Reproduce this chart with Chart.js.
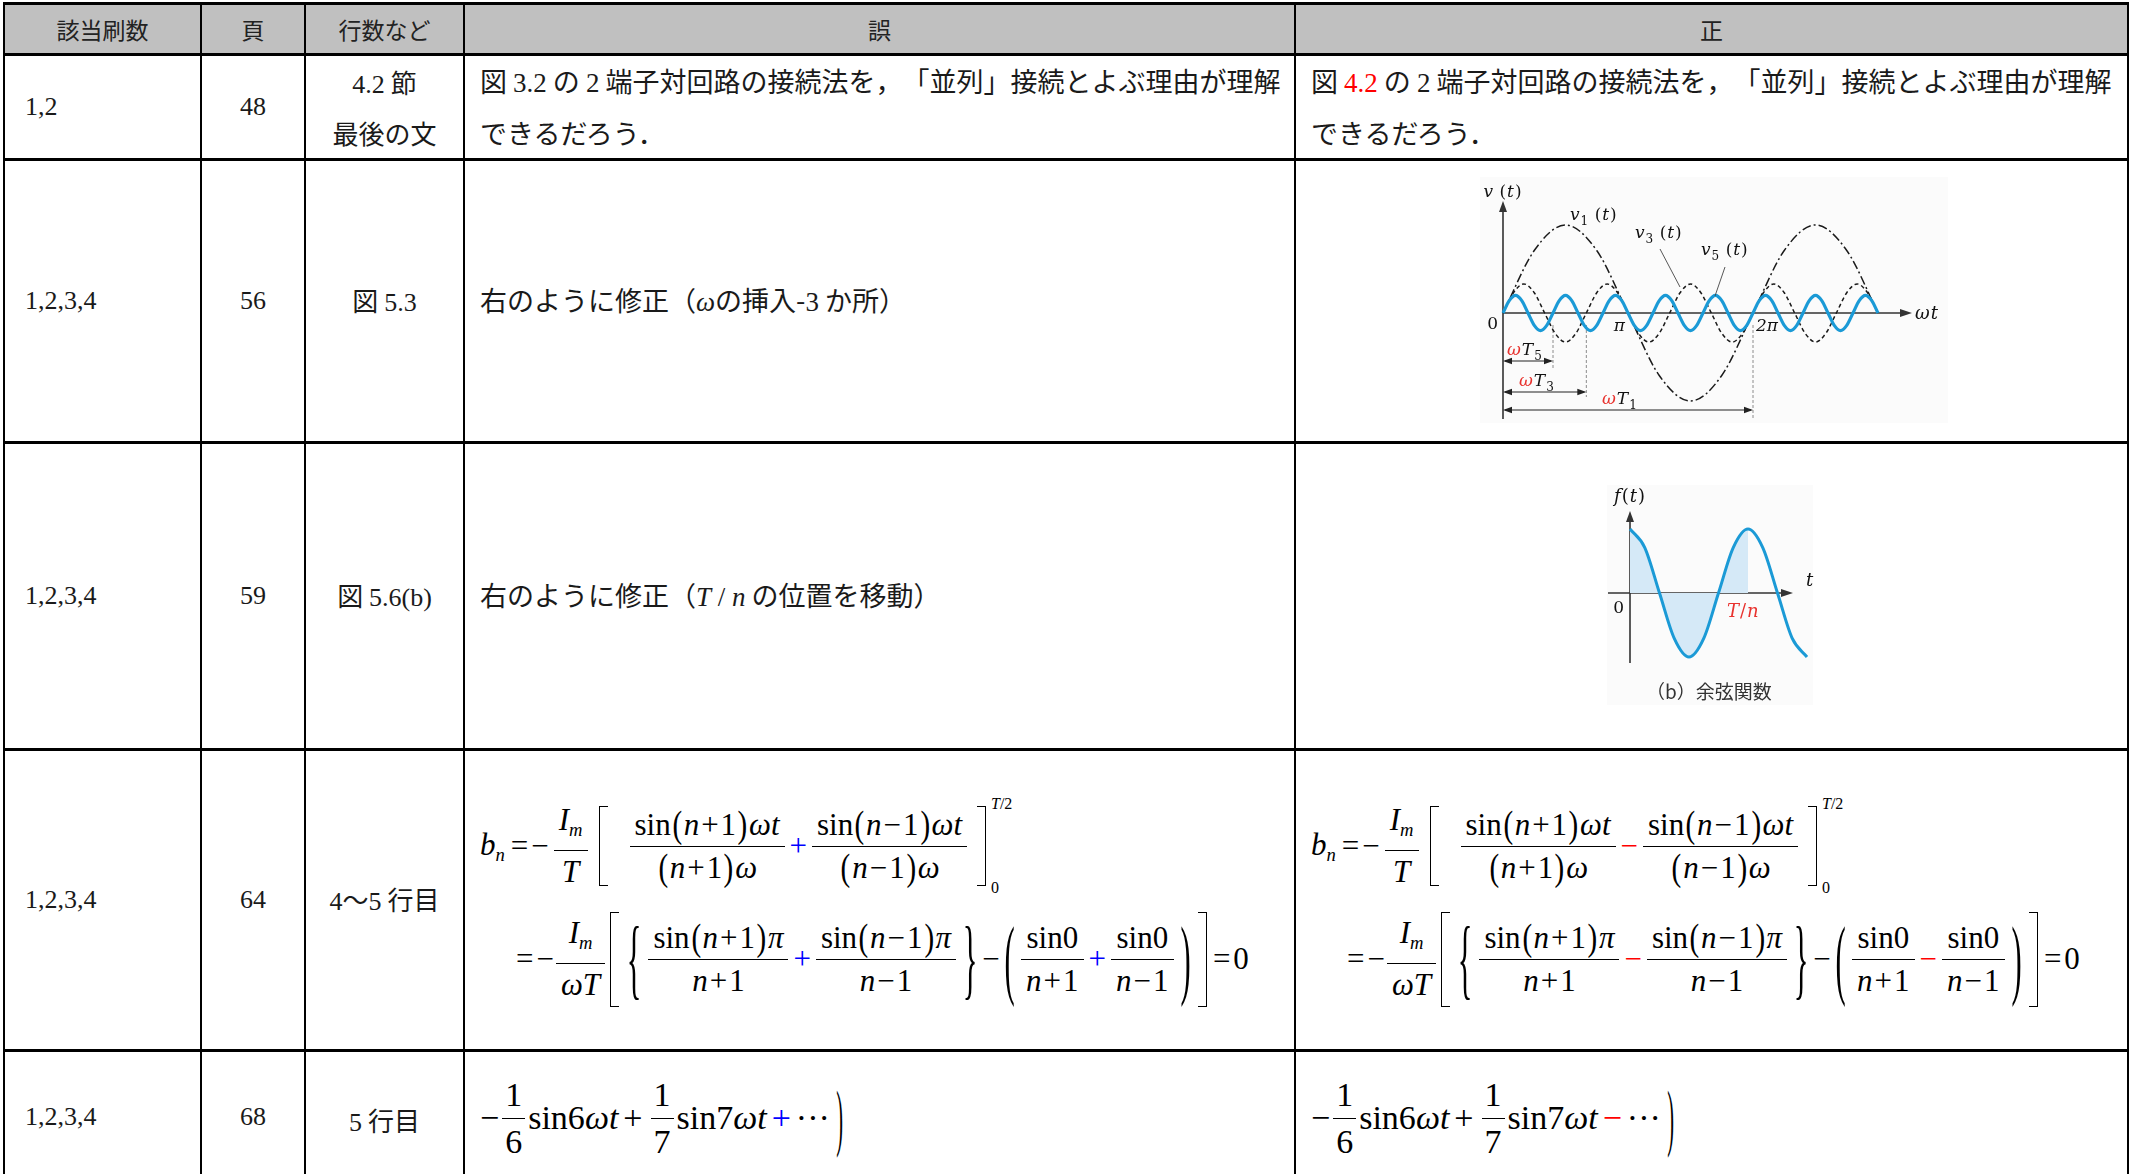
<!DOCTYPE html>
<html lang="ja">
<head>
<meta charset="utf-8">
<title>正誤表</title>
<script src="https://cdn.jsdelivr.net/npm/chart.js@4.4.0/dist/chart.umd.min.js"></script>
<style>
  html, body { margin: 0; padding: 0; background: #fff; }
  body { width: 2134px; height: 1174px; overflow: hidden; position: relative;
         font-family: "Noto Sans CJK JP", sans-serif; color: #1a1a1a; }
  table { position: absolute; left: 3px; top: 2px; border-collapse: collapse; table-layout: fixed; }
  th, td { border-left: 2px solid #000; border-right: 2px solid #000;
           border-top: 3px solid #000; border-bottom: 3px solid #000; padding: 0; }
  th { background: #c0c0c0; font-weight: 400; font-size: 23px; color: #222; }
  td { font-size: 27px; vertical-align: middle; text-spacing-trim: space-all; }
  .num { font-family: "Liberation Serif", "DejaVu Serif", serif; }
  .c1 { padding-left: 20px; font-family: "Liberation Serif", "DejaVu Serif", serif; font-size: 26px; }
  .c2 { text-align: center; font-family: "Liberation Serif", "DejaVu Serif", serif; font-size: 26px; }
  .c3 { text-align: center; line-height: 48px; font-size: 26px; }
  .tx { padding-left: 15px; line-height: 50px; white-space: nowrap; }
  .red { color: #f00; }
  .blue { color: #00f; }
  .mi { font-family: "Liberation Serif", "DejaVu Serif", serif; font-style: italic; }

  .eq { font-family: "Liberation Serif", "DejaVu Serif", serif; font-size: 31px; color: #000;
        padding-left: 15px; }
  .ml { display: flex; align-items: center; white-space: nowrap; }
  .l1 { height: 100px; margin-top: 10px; }
  .l2 { height: 110px; padding-left: 33px; margin-top: 8px; }
  .frac { display: inline-flex; flex-direction: column; text-align: center; margin: 0 2px; line-height: 36px; }
  .frac .n { border-bottom: 1.6px solid #000; padding: 0 5px 3px; }
  .frac .d { padding: 3px 5px 0; }
  i { font-style: italic; }
  sub { font-size: 0.6em; vertical-align: -0.3em; }
  .p { display: inline-block; font-size: 1.25em; line-height: 0.8; transform: scaleX(0.75); vertical-align: -0.06em; }
  .o { margin: 0 3px; }
  .s { margin: 0 2px; }
  .lb, .rb { display: inline-block; width: 9px; border: 1.7px solid #000; box-sizing: border-box; margin: 0 3px; }
  .lb { border-right: 0; }
  .rb { border-left: 0; }
  .bg { display: inline-block; font-size: 34px; line-height: 1; transform: scale(0.9, 2.6); margin: 0 4px; }
  .lim { display: flex; flex-direction: column; justify-content: space-between; height: 100px;
         font-size: 16px; line-height: 16px; margin-left: 2px; }
  .r5 { height: 100px; margin-top: 16px; font-size: 34px; }
  .sm .frac { line-height: 44px; margin: 0 3px; }
  .sm .frac .n { padding: 0 3px 1px; }
  .sm .frac .d { padding: 1px 3px 0; }
  .sm .o { margin: 0 5px; }

  canvas { position: absolute; z-index: 2; }
  #fig53 { left: 1470px; top: 175px; }
  #fig56 { left: 1580px; top: 470px; }
</style>
</head>
<body>

<table>
  <colgroup>
    <col style="width:197px"><col style="width:104px"><col style="width:159px"><col style="width:831px"><col style="width:833px">
  </colgroup>
  <tr style="height:51px">
    <th>該当刷数</th><th>頁</th><th>行数など</th><th>誤</th><th>正</th>
  </tr>
  <tr style="height:105px">
    <td class="c1">1,2</td>
    <td class="c2">48</td>
    <td class="c3"><span class="num">4.2</span> 節<br>最後の文</td>
    <td class="tx">図 <span class="num">3.2</span> の <span class="num">2</span> 端子対回路の接続法を，「並列」接続とよぶ理由が理解<br>できるだろう．</td>
    <td class="tx">図 <span class="num red">4.2</span> の <span class="num">2</span> 端子対回路の接続法を，「並列」接続とよぶ理由が理解<br>できるだろう．</td>
  </tr>
  <tr style="height:283px">
    <td class="c1">1,2,3,4</td>
    <td class="c2">56</td>
    <td class="c3">図 <span class="num">5.3</span></td>
    <td class="tx">右のように修正（<span class="mi">ω</span>の挿入-<span class="num">3</span> か所）</td>
    <td></td>
  </tr>
  <tr style="height:307px">
    <td class="c1">1,2,3,4</td>
    <td class="c2">59</td>
    <td class="c3">図 <span class="num">5.6(b)</span></td>
    <td class="tx">右のように修正（<span class="mi">T</span><span class="num"> / </span><span class="mi">n</span> の位置を移動）</td>
    <td></td>
  </tr>
  <tr style="height:301px">
    <td class="c1">1,2,3,4</td>
    <td class="c2">64</td>
    <td class="c3"><span class="num">4</span>〜<span class="num">5</span> 行目</td>
    <td>
      <div class="eq">
        <div class="ml l1">
          <span><i>b</i><sub><i>n</i></sub></span><span class="o" style="margin-left:6px">=</span><span style="margin-right:3px">−</span>
          <span class="frac" style="margin-right:8px"><span class="n"><i>I</i><sub><i>m</i></sub></span><span class="d"><i>T</i></span></span>
          <span class="lb" style="height:80px;margin-right:20px"></span>
          <span class="frac"><span class="n">sin<span class="p">(</span><i>n</i><span class="s">+</span>1<span class="p">)</span><i>ωt</i></span><span class="d"><span class="p">(</span><i>n</i><span class="s">+</span>1<span class="p">)</span><i>ω</i></span></span>
          <span class="o blue">+</span>
          <span class="frac"><span class="n">sin<span class="p">(</span><i>n</i><span class="s">−</span>1<span class="p">)</span><i>ωt</i></span><span class="d"><span class="p">(</span><i>n</i><span class="s">−</span>1<span class="p">)</span><i>ω</i></span></span>
          <span class="rb" style="height:80px;margin-left:8px"></span>
          <span class="lim"><span><i>T</i>/2</span><span>0</span></span>
        </div>
        <div class="ml l2">
          <span class="o">=</span><span>−</span>
          <span class="frac"><span class="n"><i>I</i><sub><i>m</i></sub></span><span class="d"><i>ωT</i></span></span>
          <span class="lb" style="height:95px"></span><span class="bg">{</span>
          <span class="frac"><span class="n">sin<span class="p">(</span><i>n</i><span class="s">+</span>1<span class="p">)</span><i>π</i></span><span class="d"><i>n</i><span class="s">+</span>1</span></span>
          <span class="o blue">+</span>
          <span class="frac"><span class="n">sin<span class="p">(</span><i>n</i><span class="s">−</span>1<span class="p">)</span><i>π</i></span><span class="d"><i>n</i><span class="s">−</span>1</span></span>
          <span class="bg">}</span><span>−</span><span class="bg">(</span>
          <span class="frac"><span class="n">sin0</span><span class="d"><i>n</i><span class="s">+</span>1</span></span>
          <span class="o blue">+</span>
          <span class="frac"><span class="n">sin0</span><span class="d"><i>n</i><span class="s">−</span>1</span></span>
          <span class="bg">)</span><span class="rb" style="height:95px"></span><span class="o">=</span><span>0</span>
        </div>
      </div>
    </td>
    <td>
      <div class="eq">
        <div class="ml l1">
          <span><i>b</i><sub><i>n</i></sub></span><span class="o" style="margin-left:6px">=</span><span style="margin-right:3px">−</span>
          <span class="frac" style="margin-right:8px"><span class="n"><i>I</i><sub><i>m</i></sub></span><span class="d"><i>T</i></span></span>
          <span class="lb" style="height:80px;margin-right:20px"></span>
          <span class="frac"><span class="n">sin<span class="p">(</span><i>n</i><span class="s">+</span>1<span class="p">)</span><i>ωt</i></span><span class="d"><span class="p">(</span><i>n</i><span class="s">+</span>1<span class="p">)</span><i>ω</i></span></span>
          <span class="o red">−</span>
          <span class="frac"><span class="n">sin<span class="p">(</span><i>n</i><span class="s">−</span>1<span class="p">)</span><i>ωt</i></span><span class="d"><span class="p">(</span><i>n</i><span class="s">−</span>1<span class="p">)</span><i>ω</i></span></span>
          <span class="rb" style="height:80px;margin-left:8px"></span>
          <span class="lim"><span><i>T</i>/2</span><span>0</span></span>
        </div>
        <div class="ml l2">
          <span class="o">=</span><span>−</span>
          <span class="frac"><span class="n"><i>I</i><sub><i>m</i></sub></span><span class="d"><i>ωT</i></span></span>
          <span class="lb" style="height:95px"></span><span class="bg">{</span>
          <span class="frac"><span class="n">sin<span class="p">(</span><i>n</i><span class="s">+</span>1<span class="p">)</span><i>π</i></span><span class="d"><i>n</i><span class="s">+</span>1</span></span>
          <span class="o red">−</span>
          <span class="frac"><span class="n">sin<span class="p">(</span><i>n</i><span class="s">−</span>1<span class="p">)</span><i>π</i></span><span class="d"><i>n</i><span class="s">−</span>1</span></span>
          <span class="bg">}</span><span>−</span><span class="bg">(</span>
          <span class="frac"><span class="n">sin0</span><span class="d"><i>n</i><span class="s">+</span>1</span></span>
          <span class="o red">−</span>
          <span class="frac"><span class="n">sin0</span><span class="d"><i>n</i><span class="s">−</span>1</span></span>
          <span class="bg">)</span><span class="rb" style="height:95px"></span><span class="o">=</span><span>0</span>
        </div>
      </div>
    </td>
  </tr>
  <tr style="height:140px">
    <td class="c1" style="vertical-align:top;padding-top:50px">1,2,3,4</td>
    <td class="c2" style="vertical-align:top;padding-top:50px">68</td>
    <td class="c3" style="vertical-align:top;padding-top:44px"><span class="num">5</span> 行目</td>
    <td style="vertical-align:top">
      <div class="eq sm"><div class="ml r5">
        <span>−</span>
        <span class="frac"><span class="n">1</span><span class="d">6</span></span>
        <span>sin6<i>ωt</i></span><span class="o">+</span>
        <span class="frac"><span class="n">1</span><span class="d">7</span></span>
        <span>sin7<i>ωt</i></span><span class="o blue">+</span><span>···</span><span class="bg" style="transform:scale(0.6,2.2)">)</span>
      </div></div>
    </td>
    <td style="vertical-align:top">
      <div class="eq sm"><div class="ml r5">
        <span>−</span>
        <span class="frac"><span class="n">1</span><span class="d">6</span></span>
        <span>sin6<i>ωt</i></span><span class="o">+</span>
        <span class="frac"><span class="n">1</span><span class="d">7</span></span>
        <span>sin7<i>ωt</i></span><span class="o red">−</span><span>···</span><span class="bg" style="transform:scale(0.6,2.2)">)</span>
      </div></div>
    </td>
  </tr>
</table>

<canvas id="fig53" width="480" height="250"></canvas>
<canvas id="fig56" width="250" height="250"></canvas>

<script>
// ---- Fig 5.3 data (ωt in degrees, amplitude relative to v1) ----
const V1_X = [0, 45, 90, 135, 180, 225, 270, 315, 360, 405, 450, 495, 540];
const V1_Y = [0, 0.71, 1, 0.71, 0, -0.71, -1, -0.71, 0, 0.71, 1, 0.71, 0];

const V3_X = [0, 15, 30, 45, 60, 75, 90, 105, 120, 135, 150, 165, 180, 195, 210, 225, 240, 255,
              270, 285, 300, 315, 330, 345, 360, 375, 390, 405, 420, 435, 450, 465, 480, 495, 510, 525, 540];
const V3_Y = [0, 0.23, 0.33, 0.23, 0, -0.23, -0.33, -0.23,
              0, 0.23, 0.33, 0.23, 0, -0.23, -0.33, -0.23,
              0, 0.23, 0.33, 0.23, 0, -0.23, -0.33, -0.23,
              0, 0.23, 0.33, 0.23, 0, -0.23, -0.33, -0.23,
              0, 0.23, 0.33, 0.23, 0];

const V5_X = [0, 9, 18, 27, 36, 45, 54, 63, 72, 81, 90, 99, 108, 117, 126, 135, 144, 153, 162, 171,
              180, 189, 198, 207, 216, 225, 234, 243, 252, 261, 270, 279, 288, 297, 306, 315, 324, 333,
              342, 351, 360, 369, 378, 387, 396, 405, 414, 423, 432, 441, 450, 459, 468, 477, 486, 495,
              504, 513, 522, 531, 540];
const V5_Y = [0, 0.14, 0.2, 0.14, 0, -0.14, -0.2, -0.14,
              0, 0.14, 0.2, 0.14, 0, -0.14, -0.2, -0.14,
              0, 0.14, 0.2, 0.14, 0, -0.14, -0.2, -0.14,
              0, 0.14, 0.2, 0.14, 0, -0.14, -0.2, -0.14,
              0, 0.14, 0.2, 0.14, 0, -0.14, -0.2, -0.14,
              0, 0.14, 0.2, 0.14, 0, -0.14, -0.2, -0.14,
              0, 0.14, 0.2, 0.14, 0, -0.14, -0.2, -0.14,
              0, 0.14, 0.2, 0.14, 0];

const PERIOD_SUBS = ["5", "3", "1"];
const PERIOD_ENDS = [72, 120, 360];   // ωT5, ωT3, ωT1
const PI_TICKS = [180, 360];
const PI_LABELS = ["π", "2π"];

// ---- Fig 5.6(b) data (t in degrees of one period T) ----
const COS_X = [0, 45, 90, 135, 180, 225, 270, 315, 360, 405, 450, 495, 540];
const COS_Y = [1, 0.71, 0, -0.71, -1, -0.71, 0, 0.71, 1, 0.71, 0, -0.71, -1];
const SHADE_END = 360;

const BLUE = "#1b9ad6";
const RED = "#e8322e";
const SERIF = '"DejaVu Serif", "Liberation Serif", serif';

function seg(ctx, x1, y1, x2, y2) {
  ctx.beginPath(); ctx.moveTo(x1, y1); ctx.lineTo(x2, y2); ctx.stroke();
}

function arrowHead(ctx, x, y, dir, len, half) {
  ctx.beginPath();
  ctx.moveTo(x, y);
  if (dir === "r") { ctx.lineTo(x - len, y - half); ctx.lineTo(x - len, y + half); }
  if (dir === "l") { ctx.lineTo(x + len, y - half); ctx.lineTo(x + len, y + half); }
  if (dir === "u") { ctx.lineTo(x - half, y + len); ctx.lineTo(x + half, y + len); }
  ctx.closePath(); ctx.fill();
}

// parts: [text, flags]  i = italic, s = subscript, r = red
function rich(ctx, x, y, parts, size, align) {
  const fontOf = (f) => (f.includes("i") ? "italic " : "") +
    (f.includes("s") ? Math.round(size * 0.7) : size) + "px " + SERIF;
  let w = 0;
  parts.forEach(([t, f]) => { ctx.font = fontOf(f); w += ctx.measureText(t).width + 1; });
  let cx = align === "center" ? x - w / 2 : align === "right" ? x - w : x;
  ctx.textAlign = "left"; ctx.textBaseline = "alphabetic";
  parts.forEach(([t, f]) => {
    ctx.font = fontOf(f);
    ctx.fillStyle = f.includes("r") ? RED : "#111";
    ctx.fillText(t, cx, y + (f.includes("s") ? size * 0.3 : 0));
    cx += ctx.measureText(t).width + 1;
  });
}

const xy = (xs, ys) => xs.map((x, i) => ({ x, y: ys[i] }));

// faint paper tone behind the pasted figures
const paper = (box) => ({
  id: "paper",
  beforeDraw(chart) {
    const ctx = chart.ctx;
    ctx.save();
    ctx.fillStyle = "#fbfbfb";
    ctx.fillRect(box[0], box[1], box[2], box[3]);
    ctx.restore();
  }
});

const fig53Deco = {
  id: "fig53Deco",
  beforeDatasetsDraw(chart) {
    const { ctx, scales: { x, y } } = chart;
    const ox = x.getPixelForValue(0), oy = y.getPixelForValue(0);
    ctx.save();
    // guide lines down to the period arrows
    const guideEnds = [195, 222, 244];
    ctx.strokeStyle = "#8c8c8c"; ctx.lineWidth = 1; ctx.setLineDash([3, 2]);
    PERIOD_ENDS.forEach((p, i) => {
      const px = x.getPixelForValue(p);
      seg(ctx, px, oy + 12, px, guideEnds[i]);
    });
    ctx.setLineDash([]);
    ctx.strokeStyle = "#333"; ctx.fillStyle = "#333"; ctx.lineWidth = 1.6;
    seg(ctx, ox, 244, ox, 36); arrowHead(ctx, ox, 26, "u", 11, 4);
    seg(ctx, ox, oy, 432, oy); arrowHead(ctx, 442, oy, "r", 12, 4);
    ctx.restore();
  },
  afterDraw(chart) {
    const { ctx, scales: { x, y } } = chart;
    const ox = x.getPixelForValue(0), oy = y.getPixelForValue(0);
    ctx.save();
    // period arrows
    const rows = [186, 217, 235];
    const labelAt = [[37, 180], [49, 211], [132, 229]];
    ctx.strokeStyle = "#222"; ctx.fillStyle = "#222"; ctx.lineWidth = 1.1;
    PERIOD_ENDS.forEach((p, i) => {
      const px = x.getPixelForValue(p), ay = rows[i];
      seg(ctx, ox + 2, ay, px - 2, ay);
      ctx.fillStyle = "#222";
      arrowHead(ctx, ox, ay, "l", 9, 3.2);
      arrowHead(ctx, px, ay, "r", 9, 3.2);
      rich(ctx, labelAt[i][0], labelAt[i][1], [["ω", "ir"], ["T", "i"], [PERIOD_SUBS[i], "s"]], 17, "left");
    });
    // axis labels
    rich(ctx, ox - 4, oy + 16, [["0", ""]], 17, "right");
    rich(ctx, x.getPixelForValue(PI_TICKS[0]) - 2, oy + 18, [[PI_LABELS[0], "i"]], 17, "right");
    rich(ctx, x.getPixelForValue(PI_TICKS[1]) + 3, oy + 18, [[PI_LABELS[1], "i"]], 17, "left");
    rich(ctx, 445, oy + 6, [["ω", "i"], ["t", "i"]], 18, "left");
    rich(ctx, ox, 22, [["v", "i"], [" (", ""], ["t", "i"], [")", ""]], 17, "center");
    // curve labels with leaders
    rich(ctx, 100, 45, [["v", "i"], ["1", "s"], [" (", ""], ["t", "i"], [")", ""]], 17, "left");
    rich(ctx, 165, 63, [["v", "i"], ["3", "s"], [" (", ""], ["t", "i"], [")", ""]], 17, "left");
    rich(ctx, 231, 80, [["v", "i"], ["5", "s"], [" (", ""], ["t", "i"], [")", ""]], 17, "left");
    ctx.strokeStyle = "#444"; ctx.lineWidth = 0.9;
    seg(ctx, 190, 74, 210, 112);
    seg(ctx, 255, 92, 245, 121);
    ctx.restore();
  }
};

new Chart(document.getElementById("fig53"), {
  type: "line",
  data: {
    datasets: [
      { label: "v5", data: xy(V5_X, V5_Y), borderColor: BLUE, borderWidth: 3.2 },
      { label: "v3", data: xy(V3_X, V3_Y), borderColor: "#1a1a1a", borderWidth: 1.5, borderDash: [4, 3] },
      { label: "v1", data: xy(V1_X, V1_Y), borderColor: "#1a1a1a", borderWidth: 1.5, borderDash: [9, 3, 2, 3] }
    ]
  },
  options: {
    responsive: false,
    animation: false,
    datasets: { line: { pointRadius: 0, cubicInterpolationMode: "monotone", clip: false, fill: false } },
    layout: { padding: { left: 33, right: 72, top: 50, bottom: 24 } },
    scales: {
      x: { type: "linear", min: 0, max: 540, display: false },
      y: { min: -1, max: 1, display: false }
    },
    plugins: { legend: { display: false }, tooltip: { enabled: false } }
  },
  plugins: [paper([10, 2, 468, 246]), fig53Deco]
});

const fig56Deco = {
  id: "fig56Deco",
  beforeDatasetsDraw(chart) {
    const { ctx, scales: { x, y } } = chart;
    const ox = x.getPixelForValue(0), oy = y.getPixelForValue(0);
    ctx.save();
    ctx.strokeStyle = "#333"; ctx.fillStyle = "#333"; ctx.lineWidth = 1.6;
    seg(ctx, 28, oy, 203, oy); arrowHead(ctx, 213, oy, "r", 12, 4);
    seg(ctx, ox, 193, ox, 50); arrowHead(ctx, ox, 41, "u", 11, 4);
    ctx.restore();
  },
  afterDraw(chart) {
    const { ctx, scales: { x, y } } = chart;
    const ox = x.getPixelForValue(0), oy = y.getPixelForValue(0);
    ctx.save();
    rich(ctx, ox, 32, [["f", "i"], ["(", ""], ["t", "i"], [")", ""]], 18, "center");
    rich(ctx, 226, oy - 7, [["t", "i"]], 18, "left");
    rich(ctx, ox - 5, oy + 20, [["0", ""]], 17, "right");
    rich(ctx, x.getPixelForValue(SHADE_END) - 21, oy + 24, [["T", "ir"], ["/", "r"], ["n", "ir"]], 18, "left");
    ctx.font = '19px "Noto Sans CJK JP", sans-serif';
    ctx.fillStyle = "#333"; ctx.textAlign = "left";
    ctx.fillText("（b）余弦関数", 66, 229);
    ctx.restore();
  }
};

new Chart(document.getElementById("fig56"), {
  type: "line",
  data: {
    datasets: [
      { label: "f", data: xy(COS_X, COS_Y), borderColor: BLUE, borderWidth: 3, fill: false },
      { label: "shade", data: xy(COS_X, COS_Y).filter((p) => p.x <= SHADE_END),
        borderWidth: 0, borderColor: "rgba(0,0,0,0)", backgroundColor: "#d5e9f7", fill: "origin" }
    ]
  },
  options: {
    responsive: false,
    animation: false,
    datasets: { line: { pointRadius: 0, cubicInterpolationMode: "monotone", clip: false } },
    layout: { padding: { left: 50, right: 23, top: 59, bottom: 63 } },
    scales: {
      x: { type: "linear", min: 0, max: 540, display: false },
      y: { min: -1, max: 1, display: false }
    },
    plugins: { legend: { display: false }, tooltip: { enabled: false }, filler: { propagate: false } }
  },
  plugins: [paper([27, 15, 206, 220]), fig56Deco]
});
</script>
</body>
</html>
